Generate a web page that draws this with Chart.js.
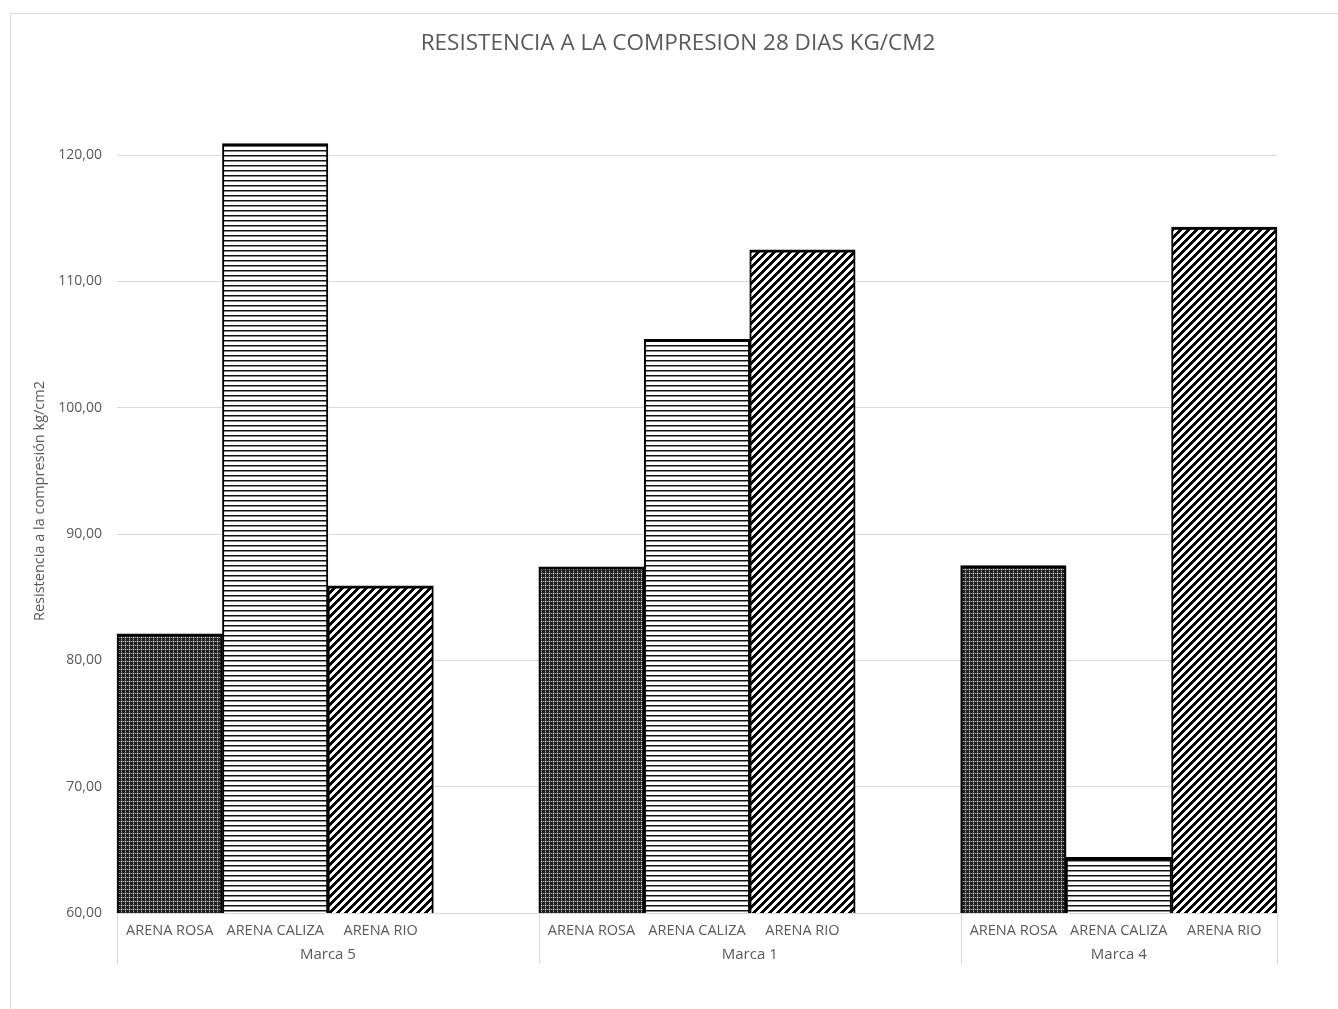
<!DOCTYPE html>
<html>
<head>
<meta charset="utf-8">
<script src="https://cdn.jsdelivr.net/npm/chart.js@4/dist/chart.umd.min.js"></script>
<style>
  html, body { margin: 0; padding: 0; background: #fff; }
  body { width: 1338px; height: 1009px; position: relative; overflow: hidden; }
  #frame { position: absolute; left: 10px; top: 13px; width: 1400px; height: 1100px;
           border-top: 1px solid #d9d9d9; border-left: 1px solid #d9d9d9; }
  canvas { position: absolute; left: 0; top: 0; }
</style>
</head>
<body>
<div id="frame"></div>
<canvas id="chart" width="1338" height="1009"></canvas>
<script>
// Compression strength at 28 days, by cement brand and sand type
const marcas = ['Marca 5', 'Marca 1', 'Marca 4'];
const arenas = ['ARENA ROSA', 'ARENA CALIZA', 'ARENA RIO'];
const arenaRosa = [82.1, 87.4, 87.5];
const arenaCaliza = [120.9, 105.4, 64.4];
const arenaRio = [85.9, 112.5, 114.3];
const yTicks = [60, 70, 80, 90, 100, 110, 120];
const yTitle = 'Resistencia a la compresión kg/cm2';

// Fill patterns (one per sand type)
function makeTile(w, h, painter) {
  const c = document.createElement('canvas');
  c.width = w; c.height = h;
  const g = c.getContext('2d');
  g.fillStyle = '#fff';
  g.fillRect(0, 0, w, h);
  painter(g);
  return document.getElementById('chart').getContext('2d').createPattern(c, 'repeat');
}
const plaid = makeTile(8, 8, g => {
  for (let y = 0; y < 8; y++) {
    for (let x = 0; x < 8; x++) {
      let col = '#0d0d0d';
      const lx = x % 4 === 1, ly = y % 4 === 1;
      if (lx && ly) col = '#e6e6e6';
      else if (lx || ly) col = ((x + y) % 2 === 0) ? '#a8a8a8' : '#4a4a4a';
      else if ((x + y) % 2 === 0) col = '#2e2e2e';
      g.fillStyle = col;
      g.fillRect(x, y, 1, 1);
    }
  }
});
const hLines = makeTile(5, 5, g => {
  g.fillStyle = '#111'; g.fillRect(0, 0, 5, 1);
  g.fillStyle = '#8a8a8a'; g.fillRect(0, 1, 5, 1);
});
const diagonal = makeTile(8, 8, g => {
  for (let y = 0; y < 8; y++) {
    for (let x = 0; x < 8; x++) {
      if ((x + y) % 8 < 4) { g.fillStyle = '#000'; g.fillRect(x, y, 1, 1); }
    }
  }
});
const patterns = [plaid, hLines, diagonal];

// Flatten into slots: three bars per brand, an empty slot between brands
const labels = [], values = [], fills = [], groupOf = [];
marcas.forEach((m, i) => {
  const series = [arenaRosa[i], arenaCaliza[i], arenaRio[i]];
  arenas.forEach((a, j) => {
    labels.push(a); values.push(series[j]); fills.push(patterns[j]); groupOf.push(i);
  });
  if (i < marcas.length - 1) {
    labels.push(''); values.push(null); fills.push('#fff'); groupOf.push(i);
  }
});

const FONT = "'Open Sans', 'Noto Sans', sans-serif";
const GREY = '#595959';
const LINE = '#d9d9d9';

// Second-level category axis (brand names with separators) and value-axis title
const groupAxis = {
  id: 'groupAxis',
  afterDraw(chart) {
    const x = chart.scales.x, ctx = chart.ctx;
    const top = chart.chartArea.bottom;
    const half = (x.getPixelForValue(1) - x.getPixelForValue(0)) / 2;
    ctx.save();
    ctx.strokeStyle = LINE; ctx.lineWidth = 1;
    const edges = [];
    marcas.forEach((m, gi) => {
      const idx = groupOf.map((g, k) => g === gi ? k : -1).filter(k => k >= 0);
      const l = x.getPixelForValue(idx[0]) - half;
      const r = x.getPixelForValue(idx[idx.length - 1]) + half;
      edges.push(l, r);
      ctx.fillStyle = GREY;
      ctx.font = '15px ' + FONT;
      ctx.textAlign = 'center'; ctx.textBaseline = 'middle';
      ctx.fillText(m, (l + r) / 2, top + 42);
    });
    [...new Set(edges.map(e => Math.round(e)))].forEach(e => {
      ctx.beginPath();
      ctx.moveTo(e + 0.5, top);
      ctx.lineTo(e + 0.5, top + 51);
      ctx.stroke();
    });
    ctx.translate(40, 501);
    ctx.rotate(-Math.PI / 2);
    ctx.font = '14.5px ' + FONT;
    ctx.fillStyle = GREY;
    ctx.fillText(yTitle, 0, 0);
    ctx.restore();
  }
};

new Chart(document.getElementById('chart'), {
  type: 'bar',
  data: {
    labels: labels,
    datasets: [{
      data: values,
      backgroundColor: fills,
      borderColor: '#000',
      borderWidth: { top: 3, left: 2, right: 2, bottom: 2 },
      borderSkipped: false,
      categoryPercentage: 1,
      barPercentage: 1,
      clip: { left: 4, top: 30, right: 4, bottom: 0 }
    }]
  },
  options: {
    responsive: false,
    animation: false,
    layout: { padding: { left: 18, right: 0, top: 0, bottom: 0 } },
    plugins: {
      legend: { display: false },
      tooltip: { enabled: false },
      title: {
        display: true,
        text: 'RESISTENCIA A LA COMPRESION 28 DIAS KG/CM2',
        color: GREY,
        font: { family: FONT, size: 22.5, weight: 'normal' },
        padding: { top: 30.5, bottom: 97.5 }
      }
    },
    scales: {
      x: {
        grid: { display: false },
        border: { display: false },
        ticks: {
          color: GREY, autoSkip: false, maxRotation: 0, padding: 1,
          font: { family: FONT, size: 14.5 }
        },
        afterFit(s) { s.height = 96; }
      },
      y: {
        min: 60, max: 120,
        afterBuildTicks(s) { s.ticks = yTicks.map(v => ({ value: v })); },
        grid: { color: LINE, drawTicks: false },
        border: { display: false },
        ticks: {
          color: GREY, padding: 15,
          font: { family: FONT, size: 14 },
          callback: v => v.toFixed(2).replace('.', ',')
        },
        afterFit(s) { s.width = 99; }
      },
      // empty margin on the right side of the plot
      yRight: {
        position: 'right',
        min: 60, max: 120,
        grid: { display: false },
        border: { display: false },
        ticks: { display: false },
        afterFit(s) { s.width = 61; }
      }
    }
  },
  plugins: [groupAxis]
});
</script>
</body>
</html>
